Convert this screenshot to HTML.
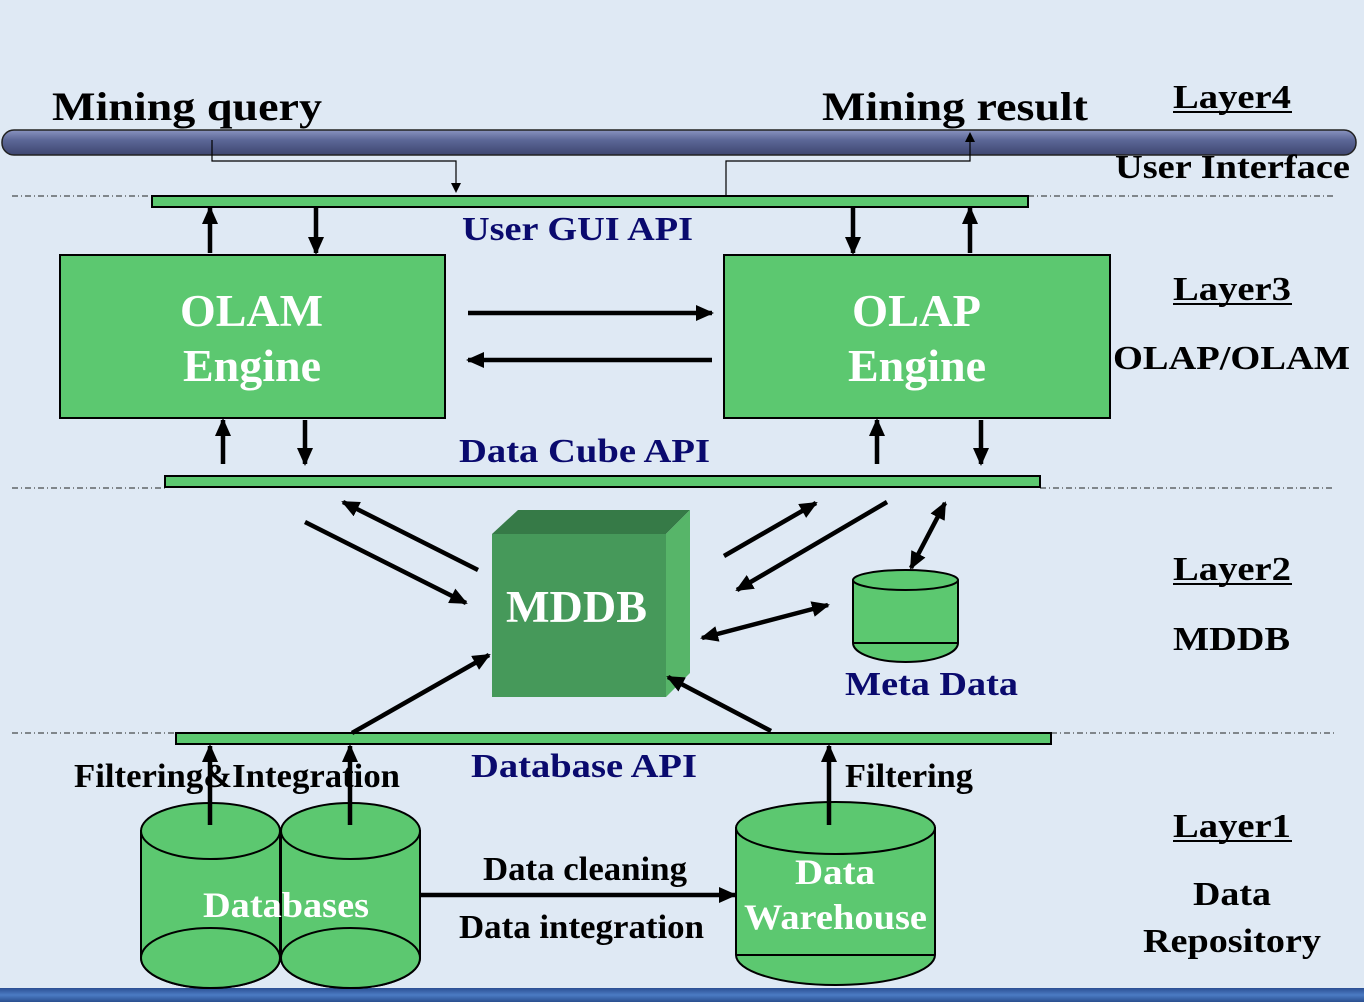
<!DOCTYPE html>
<html><head><meta charset="utf-8"><style>
html,body{margin:0;padding:0;width:1364px;height:1002px;overflow:hidden;background:#dfe9f4;}
svg{display:block}
text{font-family:"Liberation Serif",serif;font-weight:bold;}
</style></head><body>
<svg width="1364" height="1002" viewBox="0 0 1364 1002" xmlns="http://www.w3.org/2000/svg">
<defs>
<marker id="a" markerWidth="10" markerHeight="10" refX="7" refY="5" orient="auto" markerUnits="userSpaceOnUse"><path d="M0,0 L10,5 L0,10 Z" fill="#000"/></marker>
<marker id="b" markerWidth="18" markerHeight="16" refX="16" refY="8" orient="auto-start-reverse" markerUnits="userSpaceOnUse"><path d="M0,0 L18,8 L0,16 Z" fill="#000"/></marker>
<linearGradient id="tube" x1="0" y1="0" x2="0" y2="1"><stop offset="0" stop-color="#8a94c0"/><stop offset="0.4" stop-color="#5c6797"/><stop offset="1" stop-color="#3e4670"/></linearGradient>
<linearGradient id="sea" x1="0" y1="0" x2="0" y2="1"><stop offset="0" stop-color="#2b4f93"/><stop offset="0.5" stop-color="#4b7bc4"/><stop offset="1" stop-color="#2a4f8f"/></linearGradient>
</defs>
<rect width="1364" height="1002" fill="#dfe9f4"/>
<rect x="0" y="988" width="1364" height="14" fill="url(#sea)"/>
<rect x="2" y="130" width="1354" height="25" rx="12" fill="url(#tube)" stroke="#222" stroke-width="1.5"/>
<text x="52" y="120" font-size="40" textLength="270" lengthAdjust="spacingAndGlyphs">Mining query</text>
<text x="822" y="120" font-size="40" textLength="266" lengthAdjust="spacingAndGlyphs">Mining result</text>
<g stroke="#222" stroke-width="1" stroke-dasharray="6,3,1,3">
<line x1="12" y1="196" x2="152" y2="196"/><line x1="1028" y1="196" x2="1335" y2="196"/>
<line x1="12" y1="488" x2="165" y2="488"/><line x1="1040" y1="488" x2="1335" y2="488"/>
<line x1="12" y1="733" x2="176" y2="733"/><line x1="1051" y1="733" x2="1335" y2="733"/>
</g>
<polyline points="212,140 212,161 456,161 456,190" fill="none" stroke="#000" stroke-width="1.2" marker-end="url(#a)"/>
<polyline points="726,196 726,161 970,161 970,135" fill="none" stroke="#000" stroke-width="1.2" marker-end="url(#a)"/>
<g fill="#5cc870" stroke="#000" stroke-width="2">
<rect x="152" y="196" width="876" height="11"/>
<rect x="165" y="476" width="875" height="11"/>
<rect x="176" y="733" width="875" height="11"/>
<rect x="60" y="255" width="385" height="163"/>
<rect x="724" y="255" width="386" height="163"/>
</g>
<text x="462" y="240" font-size="34" fill="#0a0a6e" textLength="231" lengthAdjust="spacingAndGlyphs">User GUI API</text>
<text x="459" y="462" font-size="34" fill="#0a0a6e" textLength="251" lengthAdjust="spacingAndGlyphs">Data Cube API</text>
<text x="471" y="777" font-size="34" fill="#0a0a6e" textLength="226" lengthAdjust="spacingAndGlyphs">Database API</text>
<text x="180" y="326" font-size="45" fill="#fff" textLength="143" lengthAdjust="spacingAndGlyphs">OLAM</text>
<text x="183" y="381" font-size="45" fill="#fff" textLength="138" lengthAdjust="spacingAndGlyphs">Engine</text>
<text x="852" y="326" font-size="45" fill="#fff" textLength="129" lengthAdjust="spacingAndGlyphs">OLAP</text>
<text x="848" y="381" font-size="45" fill="#fff" textLength="138" lengthAdjust="spacingAndGlyphs">Engine</text>
<g stroke="#000" stroke-width="4.5" fill="none" marker-end="url(#b)">
<line x1="210" y1="253" x2="210" y2="208"/>
<line x1="316" y1="208" x2="316" y2="253"/>
<line x1="853" y1="208" x2="853" y2="253"/>
<line x1="970" y1="253" x2="970" y2="208"/>
<line x1="468" y1="313" x2="712" y2="313"/>
<line x1="712" y1="360" x2="468" y2="360"/>
<line x1="223" y1="464" x2="223" y2="420"/>
<line x1="305" y1="420" x2="305" y2="464"/>
<line x1="877" y1="464" x2="877" y2="420"/>
<line x1="981" y1="420" x2="981" y2="464"/>
<line x1="305" y1="522" x2="466" y2="603"/>
<line x1="478" y1="570" x2="343" y2="502"/>
<line x1="724" y1="556" x2="816" y2="503"/>
<line x1="887" y1="502" x2="737" y2="590"/>
<line x1="352" y1="733" x2="489" y2="655"/>
</g>
<g stroke="#000" stroke-width="4.5" fill="none" marker-end="url(#b)" marker-start="url(#b)">
<line x1="702" y1="638" x2="828" y2="605"/>
<line x1="911" y1="568" x2="945" y2="503"/>
</g>
<polygon points="492,534 518,510 690,510 666,534" fill="#367a47"/>
<polygon points="666,534 690,510 690,673 666,697" fill="#57b569"/>
<rect x="492" y="534" width="174" height="163" fill="#46995a"/>
<text x="506" y="622" font-size="45" fill="#fff" textLength="141" lengthAdjust="spacingAndGlyphs">MDDB</text>
<line x1="771" y1="731" x2="668" y2="677" stroke="#000" stroke-width="4.5" marker-end="url(#b)"/>
<g fill="#5cc870" stroke="#000" stroke-width="2">
<path d="M853,580 L853,643 A52.5,19 0 0 0 958,643 L958,580"/>
<ellipse cx="905.5" cy="580" rx="52.5" ry="10"/>
<line x1="853" y1="643" x2="958" y2="643"/>
</g>
<text x="845" y="695" font-size="34" fill="#0a0a6e" textLength="173" lengthAdjust="spacingAndGlyphs">Meta Data</text>
<g fill="#5cc870" stroke="#000" stroke-width="2">
<path d="M141,831 L141,958 A69.5,30 0 0 0 280,958 L280,831 Z"/>
<ellipse cx="210.5" cy="958" rx="69.5" ry="30"/>
<ellipse cx="210.5" cy="831" rx="69.5" ry="28"/>
<path d="M281,831 L281,958 A69.5,30 0 0 0 420,958 L420,831 Z"/>
<ellipse cx="350.5" cy="958" rx="69.5" ry="30"/>
<ellipse cx="350.5" cy="831" rx="69.5" ry="28"/>
<path d="M736,828 L736,955 A99.5,30 0 0 0 935,955 L935,828 Z"/>
<ellipse cx="835.5" cy="828" rx="99.5" ry="26"/>
</g>
<line x1="736" y1="955" x2="935" y2="955" stroke="#000" stroke-width="2"/>
<g stroke="#000" stroke-width="4.5" fill="none" marker-end="url(#b)">
<line x1="210" y1="825" x2="210" y2="746"/>
<line x1="350" y1="825" x2="350" y2="746"/>
<line x1="829" y1="825" x2="829" y2="746"/>
<line x1="420" y1="895" x2="735" y2="895"/>
</g>
<text x="203" y="917" font-size="36" fill="#fff" textLength="166" lengthAdjust="spacingAndGlyphs">Databases</text>
<text x="795" y="884" font-size="36" fill="#fff" textLength="80" lengthAdjust="spacingAndGlyphs">Data</text>
<text x="744" y="929" font-size="36" fill="#fff" textLength="183" lengthAdjust="spacingAndGlyphs">Warehouse</text>
<text x="74" y="787" font-size="34" textLength="326" lengthAdjust="spacingAndGlyphs">Filtering&amp;Integration</text>
<text x="845" y="787" font-size="34" textLength="128" lengthAdjust="spacingAndGlyphs">Filtering</text>
<text x="483" y="880" font-size="34" textLength="204" lengthAdjust="spacingAndGlyphs">Data cleaning</text>
<text x="459" y="938" font-size="34" textLength="245" lengthAdjust="spacingAndGlyphs">Data integration</text>
<g font-size="34" lengthAdjust="spacingAndGlyphs">
<text x="1173" y="108" textLength="118" lengthAdjust="spacingAndGlyphs">Layer4</text>
<text x="1115" y="178" textLength="235" lengthAdjust="spacingAndGlyphs">User Interface</text>
<text x="1173" y="300" textLength="118" lengthAdjust="spacingAndGlyphs">Layer3</text>
<text x="1113" y="369" textLength="237" lengthAdjust="spacingAndGlyphs">OLAP/OLAM</text>
<text x="1173" y="580" textLength="118" lengthAdjust="spacingAndGlyphs">Layer2</text>
<text x="1173" y="650" textLength="117" lengthAdjust="spacingAndGlyphs">MDDB</text>
<text x="1173" y="837" textLength="118" lengthAdjust="spacingAndGlyphs">Layer1</text>
<text x="1193" y="905" textLength="78" lengthAdjust="spacingAndGlyphs">Data</text>
<text x="1143" y="952" textLength="178" lengthAdjust="spacingAndGlyphs">Repository</text>
</g>
<g stroke="#000" stroke-width="2">
<line x1="1173" y1="112" x2="1292" y2="112"/>
<line x1="1173" y1="304" x2="1292" y2="304"/>
<line x1="1173" y1="584" x2="1292" y2="584"/>
<line x1="1173" y1="841" x2="1292" y2="841"/>
</g>
</svg>
</body></html>
